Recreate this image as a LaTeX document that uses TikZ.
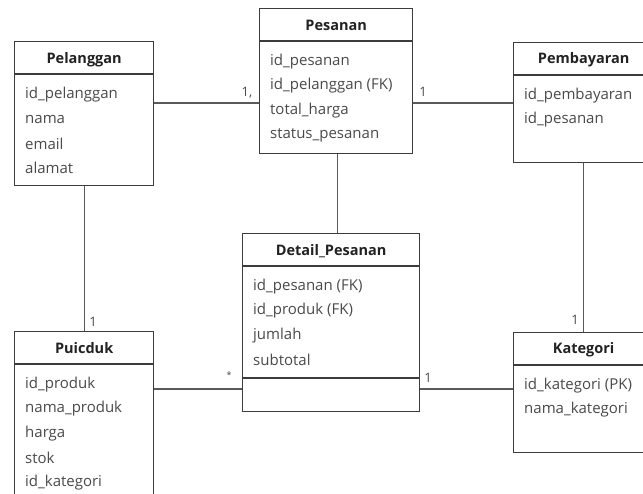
\documentclass[tikz,border=0pt]{standalone}
\usepackage{fontspec}
\setmainfont{Open Sans}
\definecolor{boxc}{HTML}{3C3C3C}
\definecolor{linec}{HTML}{5A5A5A}
\definecolor{itemc}{HTML}{4A4A4A}
\definecolor{titc}{HTML}{222222}
\tikzset{
  ent/.style={draw=boxc, line width=1.3pt, fill=white, inner sep=0pt, anchor=north west},
  hline/.style={draw=boxc, line width=1.3pt},
  etitle/.style={font=\bfseries\fontsize{14.5}{16}\selectfont, text=titc, inner sep=0pt},
  item/.style={anchor=west, font=\fontsize{15}{17}\selectfont, text=itemc, inner sep=0pt},
  conn/.style={draw=linec, line width=1.3pt},
  card/.style={font=\fontsize{13}{15}\selectfont, text=itemc, inner sep=0pt},
}
\newcommand{\entitems}[2]{%
  \foreach \t [count=\k from 0] in {#2} {
    \node[item] (#1-i\k) at ([xshift=11pt, yshift={-53.5pt-24.6pt*\k}]#1.north west) {\t};
  }%
}
\begin{document}
\begin{tikzpicture}[x=1pt, y=-1pt]
\useasboundingbox (0,0) rectangle (643,494);
\clip (0,0) rectangle (643,494);
\fill[white] (0,0) rectangle (643,494);

% entities
\node[ent, minimum width=139pt, minimum height=144pt] (pel) at (14,41) {};
\node[ent, minimum width=153pt, minimum height=145pt] (pes) at (259,8) {};
\node[ent, minimum width=140pt, minimum height=120pt] (pay) at (513,42) {};
\node[ent, minimum width=177pt, minimum height=178pt] (det) at (242,233) {};
\node[ent, minimum width=139pt, minimum height=180pt] (pui) at (14,331) {};
\node[ent, minimum width=140pt, minimum height=120pt] (kat) at (513,332) {};

% header lines
\foreach \e in {pel,pes,pay,det,pui,kat} {
  \draw[hline] ([yshift=-33pt]\e.north west) -- ([yshift=-33pt]\e.north east);
}
\draw[hline] ([yshift=-145pt]det.north west) -- ([yshift=-145pt]det.north east);

% titles
\node[etitle] (pelT) at ([yshift=-18.5pt]pel.north) {Pelanggan};
\node[etitle] (pesT) at ([yshift=-17.5pt]pes.north) {Pesanan};
\node[etitle] (payT) at ([yshift=-17.5pt]pay.north) {Pembayaran};
\node[etitle] (detT) at ([yshift=-18.5pt]det.north) {Detail\_Pesanan};
\node[etitle] (puiT) at ([yshift=-17.5pt]pui.north) {Puicduk};
\node[etitle] (katT) at ([yshift=-17.5pt]kat.north) {Kategori};

% attributes
\entitems{pel}{id\_pelanggan,nama,email,alamat}
\entitems{pes}{id\_pesanan,id\_pelanggan (FK),total\_harga,status\_pesanan}
\entitems{pay}{id\_pembayaran,id\_pesanan}
\entitems{det}{id\_pesanan (FK),id\_produk (FK),jumlah,subtotal}
\entitems{pui}{id\_produk,nama\_produk,harga,stok,id\_kategori}
\entitems{kat}{id\_kategori (PK),nama\_kategori}

% connectors
\draw[conn] ([yshift=-62pt]pel.north east) -- ([yshift=-95pt]pes.north west);
\draw[conn] ([yshift=-95pt]pes.north east) -- ([yshift=-61pt]pay.north west);
\draw[conn] ([xshift=1.5pt]pes.south) -- ([xshift=1.5pt]pes.south |- det.north);
\draw[conn] (pel.south) -- (pui.north);
\draw[conn] (pay.south) -- (kat.north);
\draw[conn] ([yshift=-58pt]pui.north east) -- ([yshift=-156pt]det.north west);
\draw[conn] ([yshift=-156pt]det.north east) -- ([yshift=-57pt]kat.north west);

% cardinalities
\node[card] (c1) at (247,93) {1,};
\node[card] (c2) at (423,92) {1};
\node[card] (c3) at (575,320) {1};
\node[card] (c4) at (93,322) {1};
\node[card, font=\fontsize{9}{10}\selectfont] (c5) at (229,375) {*};
\node[card] (c6) at (428,378) {1};
\end{tikzpicture}
\end{document}
